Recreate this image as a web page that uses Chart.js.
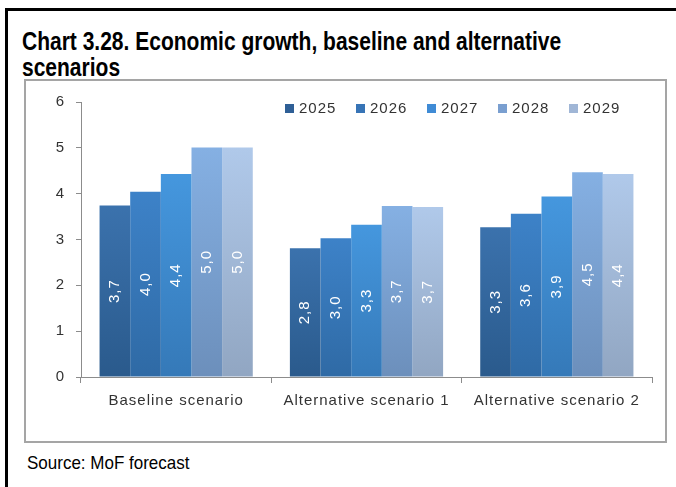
<!DOCTYPE html>
<html>
<head>
<meta charset="utf-8">
<script src="https://cdn.jsdelivr.net/npm/chart.js@4.4.1/dist/chart.umd.min.js"></script>
<style>
  html, body { margin: 0; padding: 0; background: #fff; }
  body { width: 676px; height: 487px; position: relative; overflow: hidden; font-family: "Liberation Sans", Arial, sans-serif; }
  #frame { position: absolute; left: 5px; top: 8px; width: 700px; height: 500px; border-left: 3px solid #000; border-top: 3px solid #000; }
  #title { position: absolute; left: 22px; top: 28px; font-weight: bold; font-size: 21px; line-height: 21.7px; color: #000; transform: scaleY(1.2); transform-origin: 0 0; white-space: nowrap; }
  #box { position: absolute; left: 24px; top: 79px; width: 643px; height: 364px; box-sizing: border-box; border: 2px solid #a5a5a5; }
  #box canvas { display: block; }
  #source { position: absolute; left: 27px; top: 453px; font-size: 17px; color: #000; transform: scaleY(1.08); transform-origin: 0 0; }
</style>
</head>
<body>
<div id="frame"></div>
<div id="title">Chart 3.28. Economic growth, baseline and alternative<br>scenarios</div>
<div id="box"><canvas id="growthChart" width="639" height="360"></canvas></div>
<div id="source">Source: MoF forecast</div>

<script>
const categories = ['Baseline scenario', 'Alternative scenario 1', 'Alternative scenario 2'];
const years = ['2025', '2026', '2027', '2028', '2029'];
const growth2025 = [3.74, 2.81, 3.27];
const growth2026 = [4.04, 3.03, 3.56];
const growth2027 = [4.43, 3.32, 3.94];
const growth2028 = [5.01, 3.73, 4.47];
const growth2029 = [5.01, 3.71, 4.43];
const yTicks = [0, 1, 2, 3, 4, 5, 6];

const series = [growth2025, growth2026, growth2027, growth2028, growth2029];

// gradient ends per year (top of bar -> bottom of bar)
const topColors = ['#3b72ad', '#3d82c8', '#4597de', '#85b0e3', '#b0c9ea'];
const bottomColors = ['#2a5a8c', '#2f6aa5', '#3579b8', '#6c8fbb', '#91a6c2'];
const legendColors = ['#2f5f96', '#3774b6', '#3f8bd5', '#7a9fd0', '#a0b6d6'];

const FONT = '"Liberation Sans", Arial, sans-serif';

function barGradient(i) {
  return function (ctx) {
    const chart = ctx.chart;
    const y = chart.scales.y;
    if (!chart.chartArea || !y || !ctx.parsed) return legendColors[i];
    const top = y.getPixelForValue(ctx.parsed.y);
    const bottom = y.getPixelForValue(0);
    const g = chart.ctx.createLinearGradient(0, top, 0, bottom);
    g.addColorStop(0, topColors[i]);
    g.addColorStop(1, bottomColors[i]);
    return g;
  };
}

// the text in the picture is a bit wider than plain Arial
const spacing = {
  id: 'spacing',
  beforeUpdate(chart) { chart.ctx.letterSpacing = '1px'; },
  beforeDraw(chart) { chart.ctx.letterSpacing = '1px'; }
};

const valueLabels = {
  id: 'valueLabels',
  afterDatasetsDraw(chart) {
    const c = chart.ctx;
    chart.data.datasets.forEach((ds, i) => {
      chart.getDatasetMeta(i).data.forEach((bar, j) => {
        const txt = ds.data[j].toFixed(1).replace('.', ',');
        c.save();
        c.translate(bar.x, (bar.y + bar.base) / 2);
        c.rotate(-Math.PI / 2);
        c.font = '15px ' + FONT;
        c.fillStyle = '#ffffff';
        c.textAlign = 'center';
        c.textBaseline = 'middle';
        c.fillText(txt, 0, 0);
        c.restore();
      });
    });
  }
};

const legendRow = {
  id: 'legendRow',
  afterDraw(chart) {
    const c = chart.ctx;
    c.save();
    c.font = '15px ' + FONT;
    c.textBaseline = 'middle';
    c.textAlign = 'left';
    chart.data.datasets.forEach((ds, i) => {
      const x = 259 + i * 71;
      c.fillStyle = legendColors[i];
      c.fillRect(x, 23, 9, 9);
      c.fillStyle = '#333';
      c.fillText(ds.label, x + 14, 28);
    });
    c.restore();
  }
};

new Chart(document.getElementById('growthChart'), {
  type: 'bar',
  data: {
    labels: categories,
    datasets: years.map((yr, i) => ({
      label: yr,
      data: series[i],
      backgroundColor: barGradient(i),
      borderWidth: 0,
      barPercentage: 1,
      categoryPercentage: 0.805
    }))
  },
  options: {
    responsive: false,
    animation: false,
    layout: { padding: { top: 21, right: 13, left: 0, bottom: 0 } },
    plugins: {
      legend: { display: false },
      tooltip: { enabled: false }
    },
    scales: {
      x: {
        ticks: { color: '#333', font: { size: 15, family: FONT }, padding: 9, maxRotation: 0 },
        grid: { drawOnChartArea: false, tickLength: 6, color: '#8c8c8c' },
        border: { color: '#8c8c8c' },
        afterFit(s) { s.height = 64; }
      },
      y: {
        min: 0,
        max: 6,
        afterBuildTicks(s) { s.ticks = yTicks.map(v => ({ value: v })); },
        ticks: { color: '#333', font: { size: 15, family: FONT }, padding: 11 },
        grid: { drawOnChartArea: false, tickLength: 5, color: '#8c8c8c' },
        border: { color: '#8c8c8c' },
        afterFit(s) { s.width = 55; }
      }
    }
  },
  plugins: [spacing, valueLabels, legendRow]
});
</script>
</body>
</html>
